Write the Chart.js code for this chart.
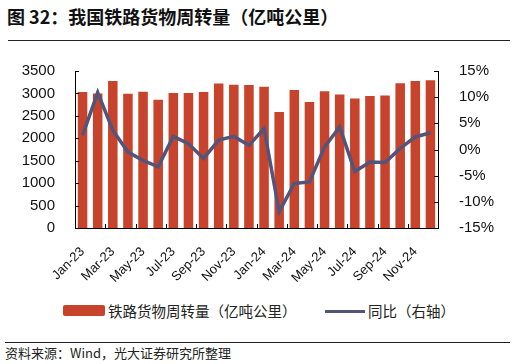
<!DOCTYPE html>
<html>
<head>
<meta charset="utf-8">
<script src="https://cdn.jsdelivr.net/npm/chart.js@4"></script>
<style>
  body { margin: 0; width: 516px; height: 364px; background: #fff; position: relative; overflow: hidden;
         font-family: "Liberation Sans", Arial, "Noto Sans CJK SC", sans-serif; }
  .title { position: absolute; left: 7px; top: 3px; font-family: "Noto Sans CJK SC", sans-serif;
           font-weight: bold; font-size: 18px; color: #111; }
  .rule { position: absolute; left: 8px; width: 502px; height: 1px; background: #222; }
  .chart-box { position: absolute; left: 0; top: 44px; width: 516px; height: 250px; }
  .legend { position: absolute; top: 302px; left: 0; width: 516px; height: 18px;
            font-family: "Noto Sans CJK SC", sans-serif; font-size: 14.5px; color: #222; }
  .legend span { position: absolute; top: 0; line-height: 18px; white-space: nowrap; }
  .source { position: absolute; left: 5px; top: 343px; font-family: "Noto Sans CJK SC", sans-serif;
            font-size: 13px; color: #222; white-space: nowrap; }
</style>
</head>
<body>
<div class="title">图 32：我国铁路货物周转量（亿吨公里）</div>
<div class="rule" style="top:40px"></div>
<div class="chart-box"><canvas id="freightChart" width="516" height="250"></canvas></div>
<div class="legend" id="legend"></div>
<div class="rule" style="top:342px;left:5px;width:505px"></div>
<div class="source">资料来源：Wind，光大证券研究所整理</div>
<script>
// Months
const months = ['Jan-23','Feb-23','Mar-23','Apr-23','May-23','Jun-23','Jul-23','Aug-23','Sep-23','Oct-23','Nov-23','Dec-23',
                'Jan-24','Feb-24','Mar-24','Apr-24','May-24','Jun-24','Jul-24','Aug-24','Sep-24','Oct-24','Nov-24','Dec-24'];
// Railway freight turnover (100m ton-km)
const freight = [3030, 3000, 3275, 2995, 3040, 2860, 3010, 3010, 3030, 3220, 3195, 3188,
                 3150, 2586, 3077, 2809, 3048, 2974, 2885, 2943, 2952, 3226, 3277, 3293];
// YoY growth (%)
const yoy = [2.7, 10.9, 3.7, -0.5, -2.1, -3.3, 2.5, 1.1, -1.7, 1.8, 2.5, 0.8,
             4.0, -11.9, -6.5, -6.2, 0.5, 4.3, -4.2, -2.4, -2.5, 0.2, 2.4, 3.2];
const leftTicks = [0, 500, 1000, 1500, 2000, 2500, 3000, 3500];
const rightTicks = [-15, -10, -5, 0, 5, 10, 15];

const barColor = '#C8432B';
const lineColor = '#53547A';

document.addEventListener('DOMContentLoaded', function() {
    initChart();
    buildLegend();
});

// Draw short tick marks pointing into the plot area
const innerTicks = {
    id: 'innerTicks',
    afterDraw(chart) {
        const ctx = chart.ctx;
        const area = chart.chartArea;
        const yL = chart.scales.y, yR = chart.scales.y1;
        ctx.save();
        ctx.strokeStyle = '#000';
        ctx.lineWidth = 1;
        ctx.beginPath();
        leftTicks.forEach(v => {
            const py = Math.round(yL.getPixelForValue(v)) + 0.5;
            ctx.moveTo(area.left, py); ctx.lineTo(area.left + 4, py);
        });
        rightTicks.forEach(v => {
            const py = Math.round(yR.getPixelForValue(v)) + 0.5;
            ctx.moveTo(area.right, py); ctx.lineTo(area.right - 4, py);
        });
        const step = (area.right - area.left) / months.length;
        for (let i = 2; i < months.length; i += 2) {
            const px = Math.round(area.left + i * step) + 0.5;
            ctx.moveTo(px, area.bottom); ctx.lineTo(px, area.bottom - 4);
        }
        ctx.stroke();
        ctx.restore();
    }
};

function initChart() {
    const ctx = document.getElementById('freightChart').getContext('2d');
    new Chart(ctx, {
        data: {
            labels: months,
            datasets: [
                {
                    type: 'line',
                    label: '同比（右轴）',
                    data: yoy,
                    yAxisID: 'y1',
                    borderColor: lineColor,
                    borderWidth: 3.5,
                    pointRadius: 0,
                    tension: 0,
                    order: 0
                },
                {
                    type: 'bar',
                    label: '铁路货物周转量（亿吨公里）',
                    data: freight,
                    yAxisID: 'y',
                    backgroundColor: barColor,
                    barPercentage: 0.63,
                    categoryPercentage: 1,
                    order: 1
                }
            ]
        },
        options: {
            responsive: false,
            animation: false,
            layout: { padding: { top: 27, left: 0, right: 0, bottom: 0 } },
            plugins: { legend: { display: false }, tooltip: { enabled: false } },
            scales: {
                x: {
                    offset: true,
                    grid: { display: false },
                    border: { color: '#000', width: 1 },
                    ticks: {
                        color: '#111',
                        font: { family: 'Liberation Sans', size: 13 },
                        autoSkip: false,
                        maxRotation: 45,
                        minRotation: 45,
                        padding: 8,
                        callback: function(value, index) {
                            return index % 2 === 0 ? months[index] : '';
                        }
                    },
                    afterFit: function(scale) { scale.height = 66; }
                },
                y: {
                    position: 'left',
                    min: 0,
                    max: 3500,
                    grid: { display: false },
                    border: { color: '#000', width: 1 },
                    ticks: {
                        stepSize: 500,
                        color: '#111',
                        padding: 12,
                        font: { family: 'Liberation Sans', size: 15 },
                        callback: function(value) { return String(value); }
                    },
                    afterFit: function(scale) { scale.width = 75; }
                },
                y1: {
                    position: 'right',
                    min: -15,
                    max: 15,
                    grid: { display: false },
                    border: { color: '#000', width: 1 },
                    ticks: {
                        stepSize: 5,
                        color: '#111',
                        padding: 13,
                        font: { family: 'Liberation Sans', size: 15 },
                        callback: function(value) { return value + '%'; }
                    },
                    afterFit: function(scale) { scale.width = 78; }
                }
            }
        },
        plugins: [innerTicks]
    });
}

// Legend below the chart
function buildLegend() {
    const legend = document.getElementById('legend');
    legend.innerHTML =
        '<span style="left:63px;top:3px;width:42px;height:11px;background:' + barColor + ';border-radius:2px"></span>' +
        '<span style="left:108px">铁路货物周转量（亿吨公里）</span>' +
        '<span style="left:325px;top:8px;width:40px;height:3px;background:' + lineColor + '"></span>' +
        '<span style="left:368px">同比（右轴）</span>';
}
</script>
</body>
</html>
